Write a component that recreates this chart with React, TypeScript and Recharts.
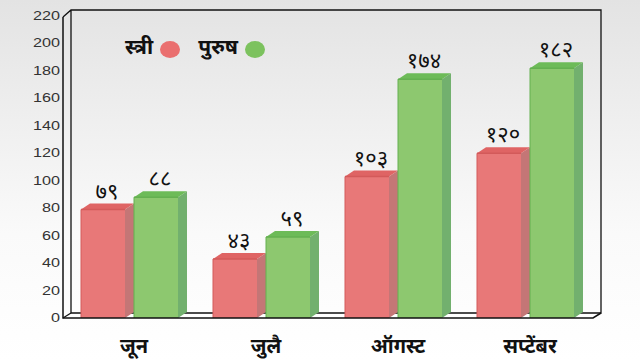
import { Bar, BarChart, LabelList, XAxis, YAxis } from 'recharts'

const months = ['जून', 'जुलै', 'ऑगस्ट', 'सप्टेंबर']
const women = [79, 43, 103, 120]
const men = [88, 59, 174, 182]
const yTicks = [0, 20, 40, 60, 80, 100, 120, 140, 160, 180, 200, 220]
const seriesNames = ['स्त्री', 'पुरुष']

const data = months.map((month, i) => ({ month, women: women[i], men: men[i] }))

const DEVA_FONT = "'Noto Sans Devanagari', 'Noto Sans', 'DejaVu Sans', sans-serif"
const DEPTH_X = 9
const DEPTH_Y = 6

const RED = { front: '#e87878', top: '#df6464', side: '#c47676', edge: '#d35a5a', dot: '#ea6f6f' }
const GREEN = { front: '#8dc86f', top: '#6dbb58', side: '#72b06e', edge: '#64b050', dot: '#7cc25e' }

const devaDigits = '०१२३४५६७८९'
const toDeva = (n: number) => String(n).replace(/[0-9]/g, (d) => devaDigits[Number(d)])

function Box3D(props: any) {
  const { x, y, width, height, colors } = props
  const w = width - DEPTH_X
  const b = y + height
  return (
    <g>
      <polygon
        points={`${x + w},${y} ${x + w + DEPTH_X},${y - DEPTH_Y} ${x + w + DEPTH_X},${b - DEPTH_Y} ${x + w},${b}`}
        fill={colors.side}
      />
      <polygon
        points={`${x},${y} ${x + DEPTH_X},${y - DEPTH_Y} ${x + w + DEPTH_X},${y - DEPTH_Y} ${x + w},${y}`}
        fill={colors.top}
      />
      <rect x={x} y={y} width={w} height={height} fill={colors.front} />
      <line x1={x} y1={y} x2={x + w} y2={y} stroke={colors.edge} strokeWidth={1.5} />
      <line x1={x} y1={y} x2={x} y2={b} stroke={colors.edge} strokeWidth={1} />
    </g>
  )
}

function ValueLabel(props: any) {
  const { x, y, width, value } = props
  return (
    <text
      x={x + (width - DEPTH_X) / 2 + 4}
      y={y - 11}
      textAnchor="middle"
      fontFamily={DEVA_FONT}
      fontSize={22}
      fill="#111"
    >
      {toDeva(value)}
    </text>
  )
}

function YTick(props: any) {
  const { x, y, payload } = props
  return (
    <text
      transform={`translate(${x},${y + 4}) scale(1.35,1)`}
      textAnchor="end"
      fontFamily="'Liberation Sans', Arial, sans-serif"
      fontSize={12}
      fill="#333"
    >
      {payload.value}
    </text>
  )
}

function XTick(props: any) {
  const { x, y, payload } = props
  return (
    <text x={x} y={y + 27} textAnchor="middle" fontFamily={DEVA_FONT} fontSize={20} fontWeight="bold" fill="#111">
      {payload.value}
    </text>
  )
}

export default function App() {
  const colors = [RED, GREEN]
  return (
    <div style={{ position: 'fixed', left: 0, top: 0, width: 640, height: 360 }}>
      <svg width={640} height={360} style={{ position: 'absolute', left: 0, top: 0 }}>
        <defs>
          <linearGradient id="bg" x1="0" y1="0" x2="0" y2="1">
            <stop offset="0%" stopColor="#e3e3e3" />
            <stop offset="65%" stopColor="#fafafa" />
            <stop offset="100%" stopColor="#ffffff" />
          </linearGradient>
        </defs>
        <rect width={640} height={360} fill="url(#bg)" />
        <polygon points="63,318 71,313 601,313 593,318" fill="#ffffff" />
        <polyline points="63,17 71,10 601,10 601,313 71,313 71,10" fill="none" stroke="#111" strokeWidth={1.3} />
      </svg>
      <div style={{ position: 'absolute', left: 0, top: 0 }}>
        <BarChart
          width={640}
          height={360}
          data={data}
          margin={{ top: 16, right: 44, bottom: 0, left: 0 }}
          barGap={0}
          barSize={53}
        >
          <XAxis dataKey="month" axisLine={false} tickLine={false} height={42} tick={<XTick />} interval={0} />
          <YAxis
            domain={[0, 220]}
            ticks={yTicks}
            axisLine={false}
            tickLine={false}
            width={68}
            tick={<YTick />}
            interval={0}
          />
          <Bar dataKey="women" isAnimationActive={false} shape={(p: any) => <Box3D {...p} colors={RED} />}>
            <LabelList dataKey="women" content={<ValueLabel />} />
          </Bar>
          <Bar dataKey="men" isAnimationActive={false} shape={(p: any) => <Box3D {...p} colors={GREEN} />}>
            <LabelList dataKey="men" content={<ValueLabel />} />
          </Bar>
        </BarChart>
      </div>
      <svg width={640} height={360} style={{ position: 'absolute', left: 0, top: 0, pointerEvents: 'none' }}>
        <polyline points="63,17 63,318 593,318 601,313" fill="none" stroke="#111" strokeWidth={1.5} />
        <line x1={63} y1={318} x2={71} y2={313} stroke="#111" strokeWidth={1.2} />
      </svg>
      <div
        style={{
          position: 'absolute',
          left: 125,
          top: 35,
          display: 'flex',
          alignItems: 'center',
          fontFamily: DEVA_FONT,
          fontWeight: 'bold',
          fontSize: 21,
          color: '#111',
        }}
      >
        {seriesNames.map((name, i) => (
          <div key={name} style={{ display: 'flex', alignItems: 'center', marginRight: 18 }}>
            <span>{name}</span>
            <span
              style={{
                display: 'inline-block',
                width: 20,
                height: 17,
                borderRadius: '50%',
                background: colors[i].dot,
                marginLeft: 7,
              }}
            />
          </div>
        ))}
      </div>
    </div>
  )
}
